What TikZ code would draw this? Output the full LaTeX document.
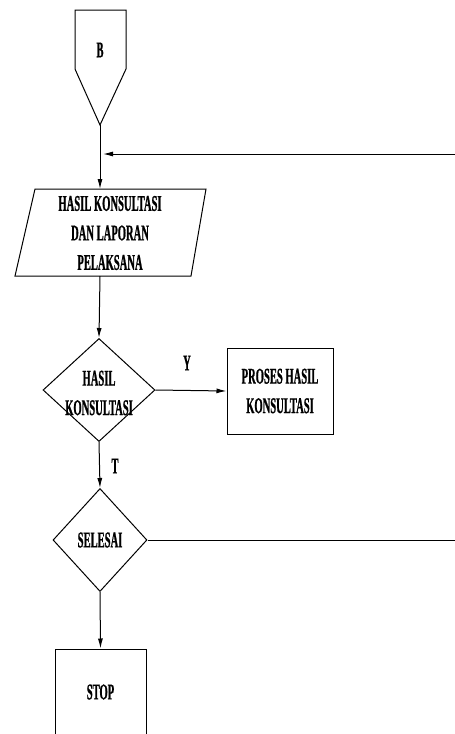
\documentclass[tikz,border=0pt]{standalone}
\usepackage{fontspec}
\setmainfont{Liberation Serif}[FakeStretch=0.47,BoldFeatures={FakeBold=0.8}]
\usetikzlibrary{arrows.meta,shapes.geometric}
\begin{document}
\begin{tikzpicture}[x=1pt,y=-1pt,
  every node/.style={font=\fontsize{22.5}{29.5}\selectfont\bfseries, align=center, inner sep=0pt},
  line/.style={draw=black, line width=1pt},
  arr/.style={line, -{Latex[length=10pt,width=5pt]}},
  decision/.style={diamond, line, inner sep=0pt},
  procbox/.style={rectangle, line, inner sep=0pt}]
\useasboundingbox (0,0) rectangle (455,734);
% off-page connector B
\draw[line] (75,10) -- (126,10) -- (126,69) -- (100,125) -- (75,69) -- cycle;
\node (B) at (100,50) {B};
\coordinate (Bend) at (100,125);
% parallelogram
\draw[line] (35,189) -- (206,189) -- (191,276) -- (15,276) -- cycle;
\node (par) at (110,233) {HASIL KONSULTASI\\DAN LAPORAN\\PELAKSANA};
\coordinate (parTop) at (100,189);
\coordinate (parBot) at (100,276);
% decision 1
\node[decision, minimum width=112pt, minimum height=103pt] (d1) at (99,390) {};
\node at (99,393) {HASIL\\KONSULTASI};
% process
\node[procbox, minimum width=106pt, minimum height=86pt] (proc) at (280,391) {PROSES HASIL\\KONSULTASI};
% decision 2
\node[decision, minimum width=94pt, minimum height=103pt] (d2) at (100,540) {SELESAI};
% stop
\node[procbox, minimum width=91pt, minimum height=86pt] (stop) at (100.5,692) {STOP};
% connectors
\coordinate (fbR) at (455,154);
\coordinate (fbL) at (103,154);
\coordinate (sR) at (455,540);
\draw[arr] (Bend) -- (parTop);
\draw[arr] (fbR) -- (fbL);
\draw[arr] (parBot) -- (d1.north);
\draw[arr] (d1.east) -- (proc.west);
\draw[arr] (d1.south) -- (d2.north);
\draw[line] (d2.east) -- (sR);
\draw[arr] (d2.south) -- (stop.north);
% labels
\node (Y) at (187,363) {Y};
\node (T) at (115,466) {T};
\end{tikzpicture}
\end{document}
